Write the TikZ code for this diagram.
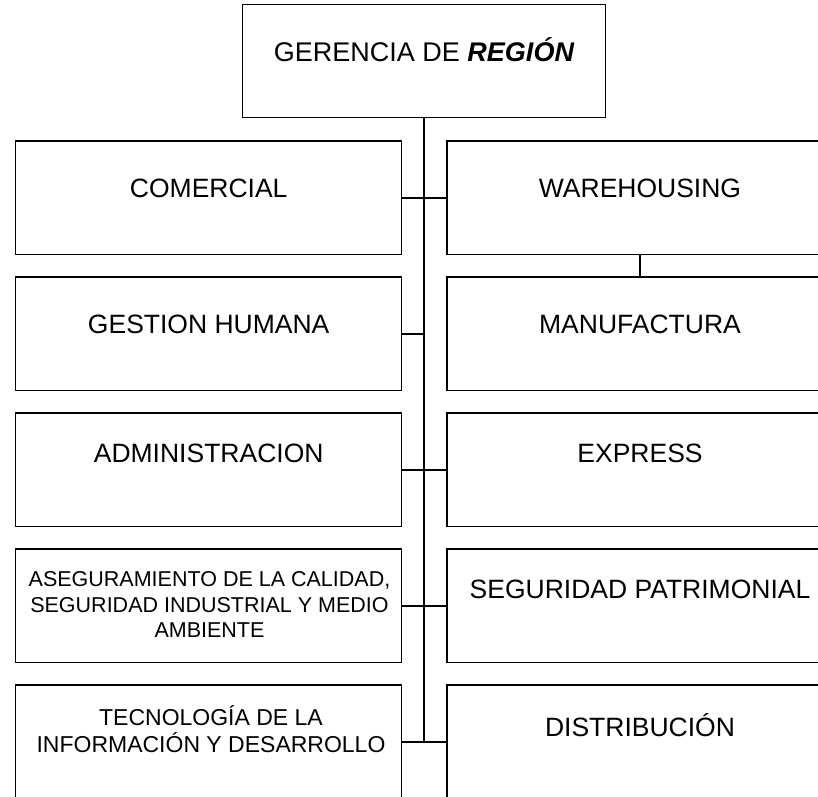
\documentclass[tikz,border=0pt]{standalone}
\usepackage{fontspec}
\setmainfont{Liberation Sans}
\begin{document}
\begin{tikzpicture}[x=1pt,y=-1pt,
  unit/.style={draw=black,line width=1.5pt,minimum width=386pt,minimum height=113.5pt,inner sep=0pt,fill=white},
  topunit/.style={draw=black,line width=1.5pt,minimum width=363pt,minimum height=113pt,inner sep=0pt,fill=white},
  lbl/.style={font=\fontsize{26.5}{30}\selectfont,align=center,inner sep=0pt},
  glbl/.style={font=\fontsize{27}{31}\selectfont,align=center,inner sep=0pt},
  slbl/.style={font=\fontsize{21.5}{25.5}\selectfont,align=center,inner sep=0pt},
  tlbl/.style={font=\fontsize{23}{26.5}\selectfont,align=center,inner sep=0pt},
  link/.style={line width=1.5pt},
  trunkline/.style={line width=2.5pt}]
\useasboundingbox (0,0) rectangle (818,796);
\clip (0,0) rectangle (818,796);
% boxes
\node[topunit] (ger) at (424.2,61.2) {};
\node[unit] (com) at (208.7,197.75) {};
\node[unit] (ges) at (208.7,333.75) {};
\node[unit] (adm) at (208.7,469.75) {};
\node[unit] (ase) at (208.7,605.75) {};
\node[unit] (tec) at (208.7,741.75) {};
\node[unit] (war) at (640,197.75) {};
\node[unit] (man) at (640,333.75) {};
\node[unit] (exp) at (640,469.75) {};
\node[unit] (seg) at (640,605.75) {};
\node[unit] (dis) at (640,741.75) {};
% connectors
\coordinate (tend) at (424.2,741.75);
\draw[trunkline] (ger.south) -- (tend);
\draw[link] (com.east) -- (war.west);
\draw[link] (ges.east) -- (ges.east -| tend);
\draw[link] (adm.east) -- (exp.west);
\draw[link] (ase.east) -- (seg.west);
\draw[link] (tec.east) -- (dis.west);
\draw[link] (war.south) -- (man.north);
% labels
\node[glbl] (tger) at (424.2,50) {GERENCIA DE \textbf{\textit{REGIÓN}}};
\node[lbl] (tcom) at ([yshift=-48pt]com.north) {COMERCIAL};
\node[lbl] (tges) at ([yshift=-48pt]ges.north) {GESTION HUMANA};
\node[lbl] (tadm) at ([yshift=-41pt]adm.north) {ADMINISTRACION};
\node[slbl] (tase) at (209.5,604.5) {ASEGURAMIENTO DE LA CALIDAD,\\SEGURIDAD INDUSTRIAL Y MEDIO\\AMBIENTE};
\node[tlbl] (ttec) at (211,729) {TECNOLOGÍA DE LA\\INFORMACIÓN Y DESARROLLO};
\node[lbl] (twar) at ([yshift=-48pt]war.north) {WAREHOUSING};
\node[lbl] (tman) at ([yshift=-48pt]man.north) {MANUFACTURA};
\node[lbl] (texp) at ([yshift=-41pt]exp.north) {EXPRESS};
\node[lbl] (tseg) at ([yshift=-41pt]seg.north) {SEGURIDAD PATRIMONIAL};
\node[lbl] (tdis) at ([yshift=-41pt]dis.north) {DISTRIBUCIÓN};
\end{tikzpicture}
\end{document}
